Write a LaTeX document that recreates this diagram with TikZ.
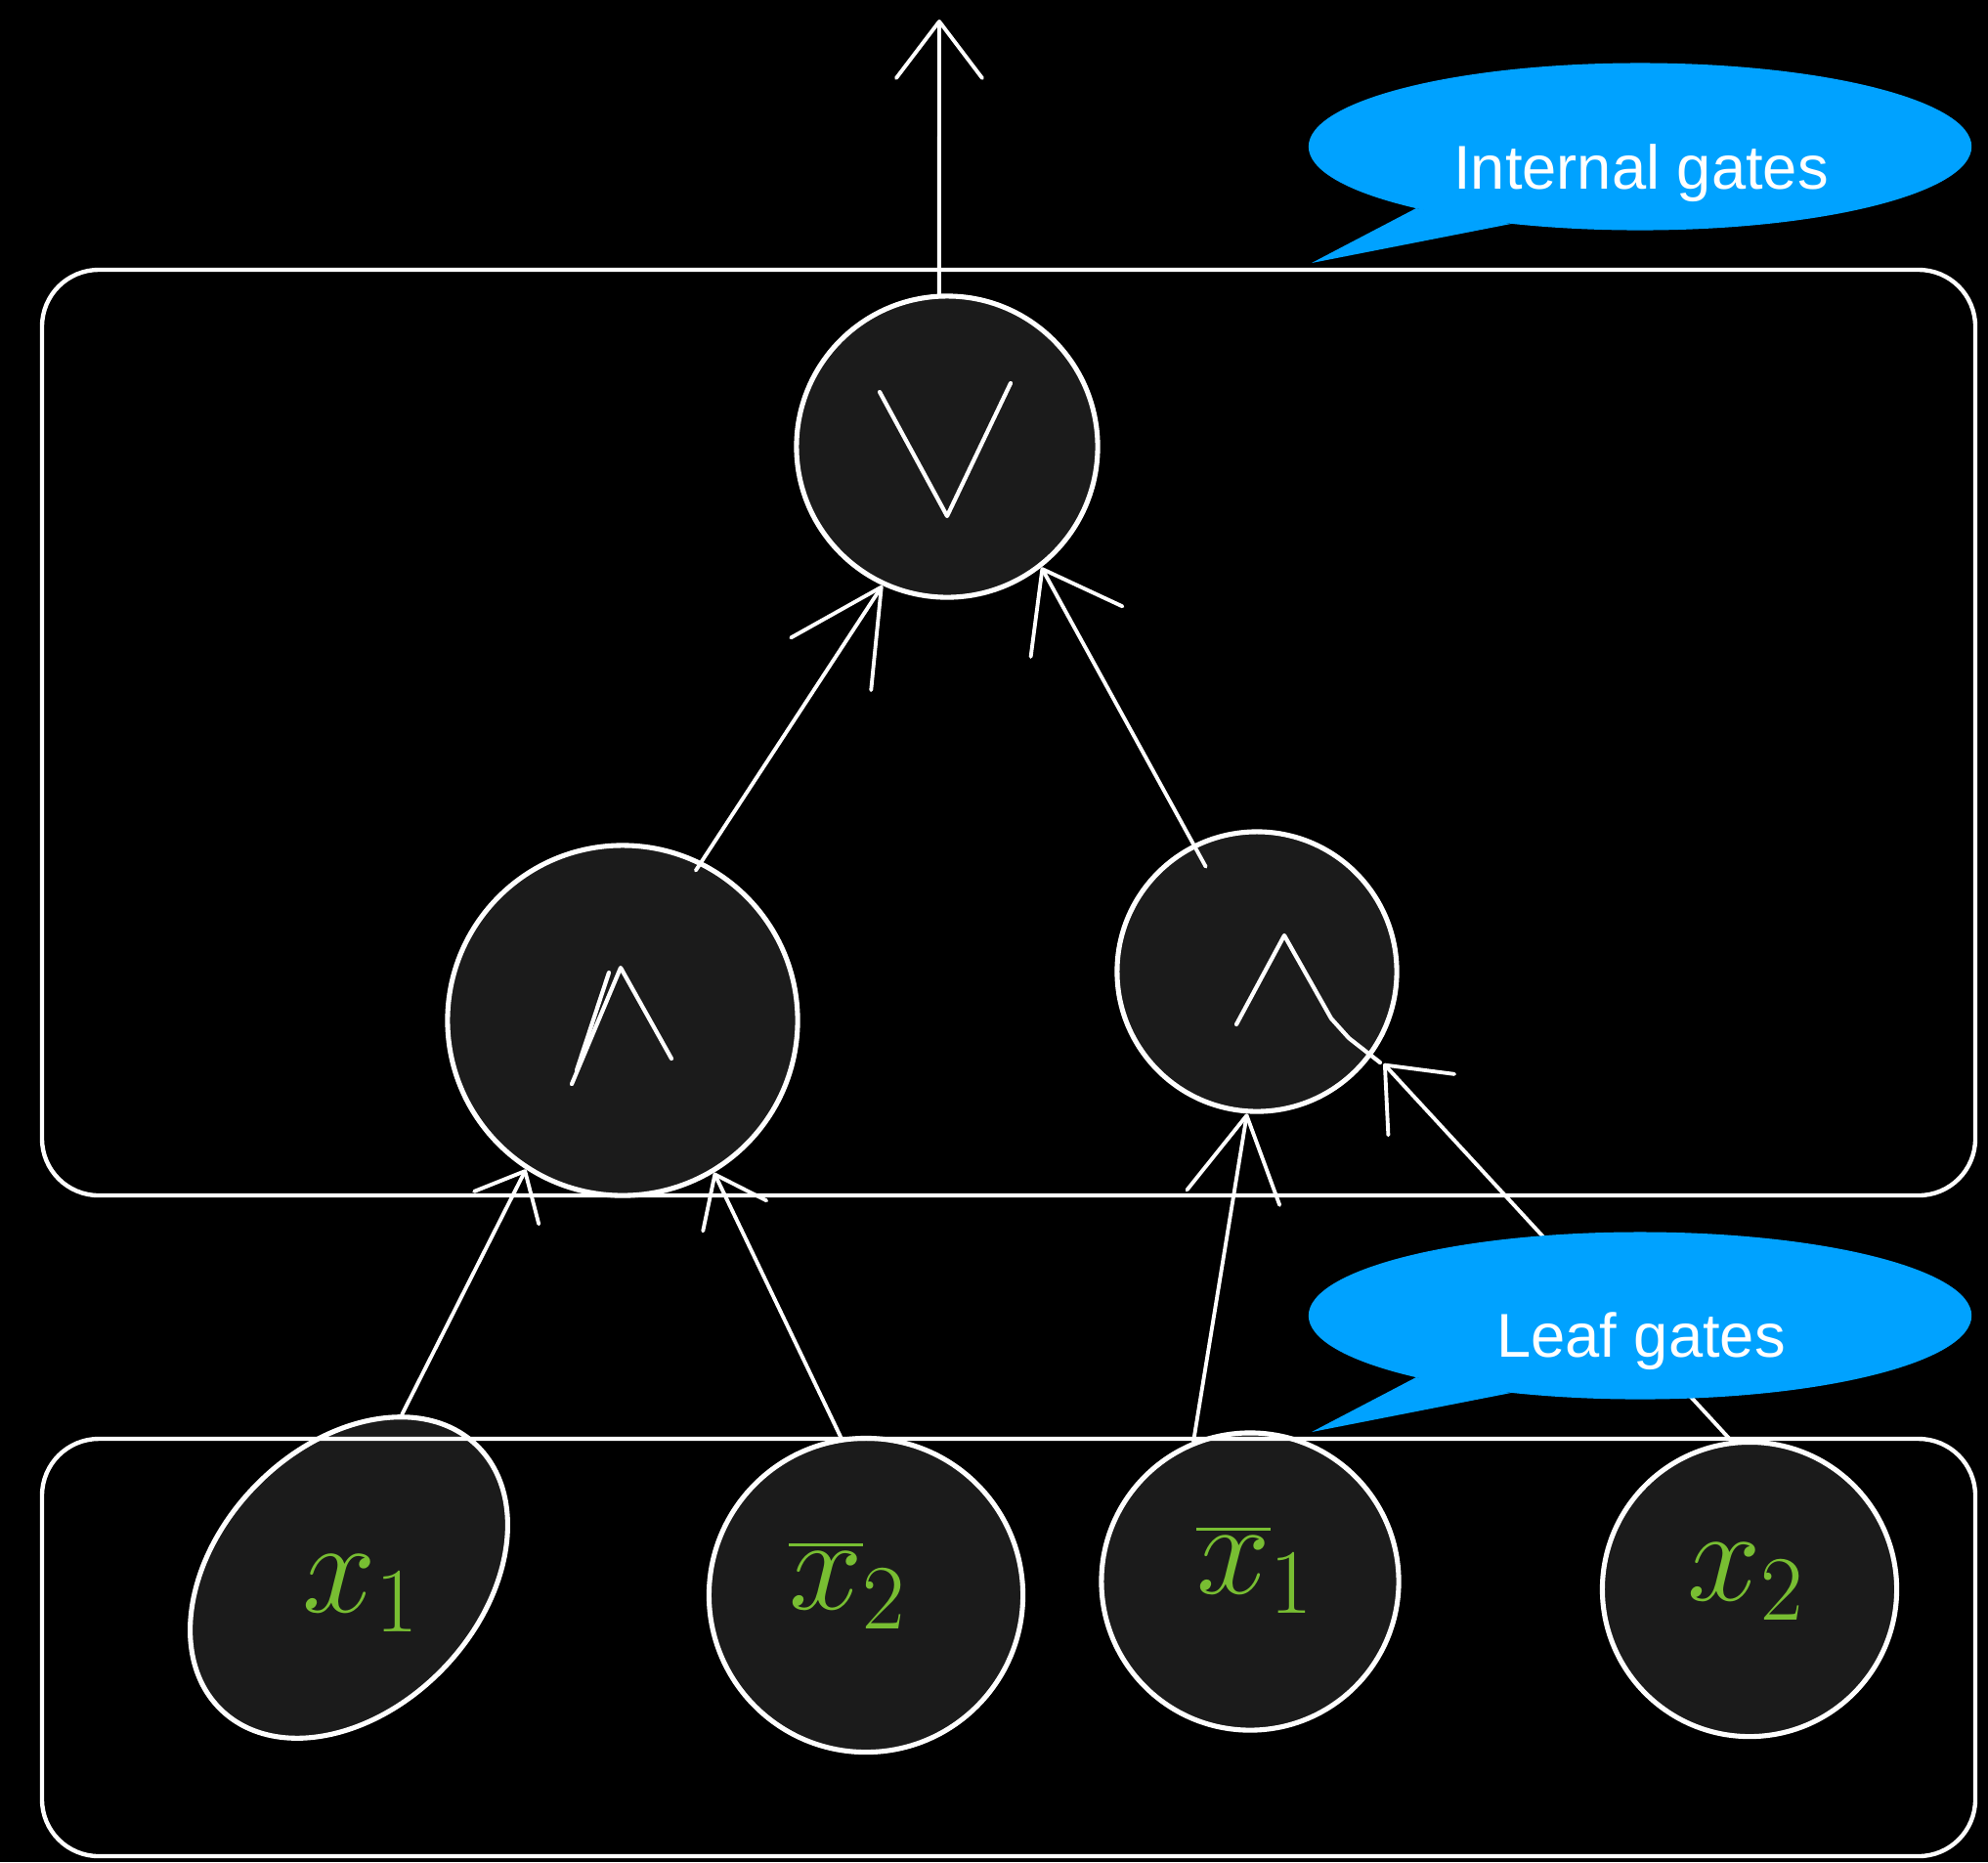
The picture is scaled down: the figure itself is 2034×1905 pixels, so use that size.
\documentclass[tikz,border=0pt]{standalone}
\usepackage{fontspec}
\newfontfamily\calloutfont{Liberation Sans}
\usetikzlibrary{arrows.meta,shapes.geometric,calc}
\definecolor{bubble}{RGB}{0,162,255}
\definecolor{gatefill}{RGB}{27,27,27}
\definecolor{chalkgreen}{RGB}{120,190,50}
% large leaf labels: set at 25pt and enlarged, so the math italic keeps its proportions
\newcommand{\leaftext}[1]{\scalebox{1.55}{$#1$}}

\begin{document}
\begin{tikzpicture}[x=0.01cm,y=-0.01cm,
  gate/.style={circle,draw=white,fill=gatefill,line width=1.45pt,inner sep=0pt,minimum size=#1},
  glyph/.style={draw=white,line width=1.2pt,line cap=round,line join=round},
  wire/.style 2 args={draw=white,line width=1.1pt,line cap=round,
    -{Straight Barb[length=#1,width=#2,round]}},
  groupbox/.style={draw=white,line width=1.25pt,rounded corners=0.58cm},
  leaflabel/.style={text=chalkgreen,font=\fontsize{25}{30}\selectfont,inner sep=0pt},
  bubblenode/.style={ellipse,fill=bubble,inner sep=0pt,minimum width=6.78cm,minimum height=1.71cm},
  bubbletext/.style={text=white,font=\calloutfont\fontsize{18}{22}\selectfont,inner sep=0pt,anchor=base}
]
\useasboundingbox (0,0) rectangle (2034,1905);
\fill[black] (0,0) rectangle (2034,1905);

% internal gates
\node[gate=3.08cm] (or)   at (969,457)  {};
\node[gate=3.58cm] (andl) at (637,1044) {};
\node[gate=2.86cm] (andr) at (1286,994) {};

% leaf gates
\node[ellipse,draw=white,fill=gatefill,line width=1.45pt,inner sep=0pt,
      minimum width=3.76cm,minimum height=2.68cm,rotate=46] (x1) at (357,1614) {};
\node[gate=3.21cm] (xb2) at (886,1632)  {};
\node[gate=3.04cm] (xb1) at (1279,1618) {};
\node[gate=3.01cm] (x2)  at (1790,1626) {};

\node[leaflabel] (lx1)  at (370,1630)  {\leaftext{x_1}};
\node[leaflabel] (lxb2) at (868,1622)  {\leaftext{\overline{x}_2}};
\node[leaflabel] (lxb1) at (1285,1606) {\leaftext{\overline{x}_1}};
\node[leaflabel] (lx2)  at (1787,1618) {\leaftext{x_2}};

% hand-drawn OR / AND symbols
\draw[glyph] (900,401) -- (969,528) -- (1034,392);
\draw[glyph] (585,1109) -- (635,990) -- (687,1083);
\draw[glyph] (623,995) -- (590,1095);
\draw[glyph] (1265,1048) -- (1314,957) -- (1362,1042) -- (1380,1062) -- (1412,1087);

% wires
\draw[wire={0.42cm}{0.74cm}] (x1.26) -- (andl.237);
\draw[wire={0.47cm}{0.72cm}] (xb2.99) -- (andl.301);
\draw[wire={0.85cm}{0.96cm}] (xb1.112) -- (andr.266);
\draw[wire={0.55cm}{0.92cm}] (x2.97) -- ($(andr.center)!1.1!(andr.-36.5)$);
\draw[wire={0.94cm}{0.98cm}] ($(andl.center)!0.94!(andl.64)$) -- (or.245);
\draw[wire={0.73cm}{1.07cm}] ($(andr.center)!0.82!(andr.116)$) -- (or.308);
\coordinate (out) at (961,20);
\draw[wire={0.58cm}{0.88cm}] (or.93) -- (out);

% group frames
\draw[groupbox] (43,276) rectangle (2021,1223);
\draw[groupbox] (43,1472) rectangle (2021,1899);

% callouts
\node[bubblenode] (bubtop) at (1678,150) {};
\fill[bubble] ($(bubtop.center)+(-229,63)$) -- ($(bubtop.center)+(-336,119)$)
  -- ($(bubtop.center)+(-132,79)$) -- cycle;
\node[bubbletext] (tinternal) at (1679,193) {Internal gates};

\node[bubblenode] (bubleaf) at (1678,1346) {};
\fill[bubble] ($(bubleaf.center)+(-229,63)$) -- ($(bubleaf.center)+(-336,119)$)
  -- ($(bubleaf.center)+(-132,79)$) -- cycle;
\node[bubbletext] (tleaf) at (1679,1388) {Leaf gates};
\end{tikzpicture}
\end{document}
